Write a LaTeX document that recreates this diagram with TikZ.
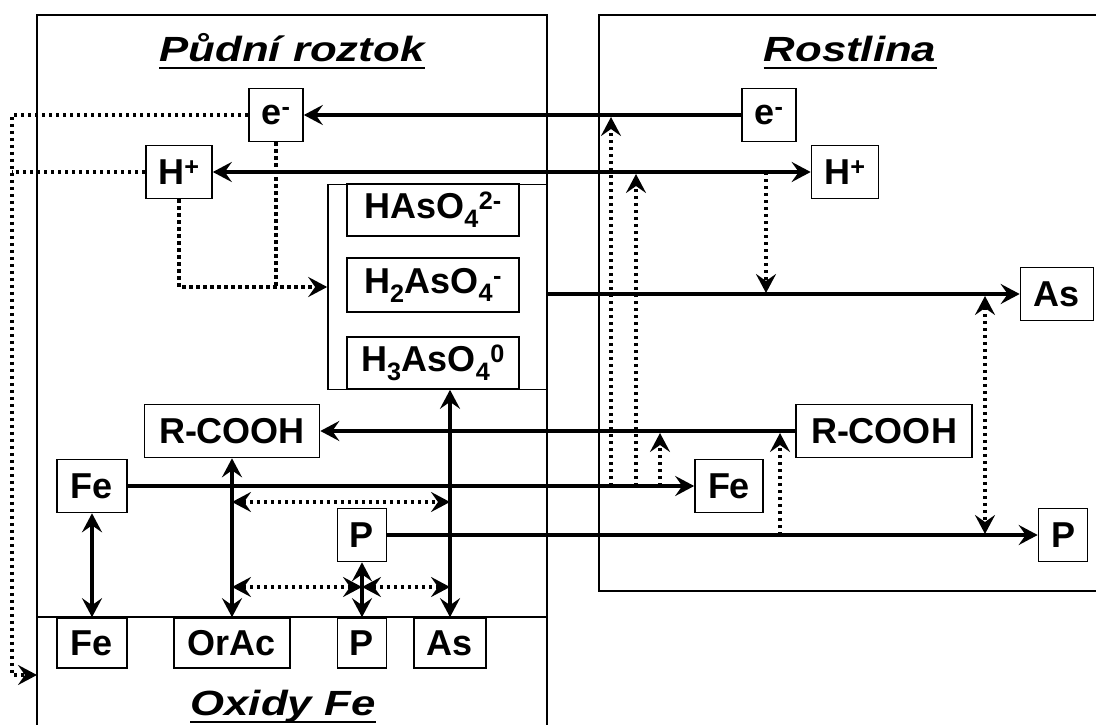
\documentclass[tikz,border=0pt]{standalone}
\usepackage{fontspec}
\setmainfont{Liberation Sans}
\usepackage{graphicx}
\usetikzlibrary{arrows.meta}

\tikzset{
  spec/.style={draw, line width=1.6pt, fill=white, inner sep=0pt,
    minimum height=53pt, font=\bfseries\fontsize{36}{40}\selectfont},
  heading/.style={anchor=base, inner sep=0pt,
    font=\bfseries\itshape\fontsize{35}{40}\selectfont},
  wall/.style={line width=2.8pt},
  uline/.style={line width=2.4pt},
  flow/.style={line width=3.6pt},
  dots/.style={line width=3.6pt, dash pattern=on 3.4pt off 3.6pt}
}

\begin{document}
\begin{tikzpicture}[x=1pt, y=-1pt, >={Stealth[length=19pt,width=20pt,inset=7pt]}]
  \useasboundingbox (0,0) rectangle (1096,725);

  % frames
  \draw[wall] (37,730) -- (37,15) -- (547,15) -- (547,730);
  \draw[wall] (37,617) -- (547,617);
  \draw[wall] (1100,15) -- (599,15) -- (599,591) -- (1100,591);

  % headings
  \node[heading] (tSoil) at (292,62) {\scalebox{1.25}[1]{Půdní roztok}};
  \draw[uline] ([yshift=-6pt]tSoil.base west) -- ([yshift=-6pt]tSoil.base east);
  \node[heading] (tPlant) at (850,62) {\scalebox{1.25}[1]{Rostlina}};
  \draw[uline] ([yshift=-6pt]tPlant.base west) -- ([yshift=-6pt]tPlant.base east);
  \node[heading] (tOxide) at (283,715) {\scalebox{1.25}[1]{Oxidy Fe}};
  \draw[uline] ([yshift=-7pt]tOxide.base west) -- ([yshift=-7pt]tOxide.base east);

  % soil solution
  \node[spec, minimum width=54pt] (eL) at (276,115) {e\textsuperscript{-}};
  \node[spec, minimum width=66pt] (hL) at (179,172) {H\textsuperscript{+}};
  \node[draw, line width=1.6pt, inner sep=0pt, minimum width=219pt,
    minimum height=205pt] (asGrp) at (437.5,287) {};
  \node[spec, minimum width=172pt, minimum height=52pt] (as1) at (433,210)
    {HAsO\textsubscript{4}\textsuperscript{2-}};
  \node[spec, minimum width=172pt, minimum height=54pt] (as2) at (433,285)
    {H\textsubscript{2}AsO\textsubscript{4}\textsuperscript{-}};
  \node[spec, minimum width=172pt, minimum height=52pt] (as3) at (433,363)
    {H\textsubscript{3}AsO\textsubscript{4}\textsuperscript{0}};
  \node[spec, minimum width=175pt] (rcL) at (232,431) {R-COOH};
  \node[spec, minimum width=70pt] (feL) at (92,486) {Fe};
  \node[spec, minimum width=49pt] (pL) at (362,535) {P};

  % iron oxides
  \node[spec, minimum width=70pt, minimum height=50pt] (feB) at (92,643) {Fe};
  \node[spec, minimum width=116pt, minimum height=50pt] (orB) at (232,643) {OrAc};
  \node[spec, minimum width=49pt, minimum height=50pt] (pB) at (362,643) {P};
  \node[spec, minimum width=72pt, minimum height=50pt] (asB) at (450,643) {As};

  % plant
  \node[spec, minimum width=54pt] (eR) at (769,115) {e\textsuperscript{-}};
  \node[spec, minimum width=67pt] (hR) at (845,172) {H\textsuperscript{+}};
  \node[spec, minimum width=73pt] (asR) at (1057,294) {As};
  \node[spec, minimum width=176pt] (rcR) at (884,431) {R-COOH};
  \node[spec, minimum width=68pt] (feR) at (729,486) {Fe};
  \node[spec, minimum width=49pt] (pR) at (1063,535) {P};

  % main fluxes
  \draw[flow, ->] (eR) -- (eL);
  \draw[flow, <->] (hL) -- (hR);
  \draw[flow, ->] (asGrp.east |- asR) -- (asR);
  \draw[flow, ->] (rcR) -- (rcL);
  \draw[flow, ->] (feL) -- (feR);
  \draw[flow, ->] (pL) -- (pR);
  \draw[flow, <->] (feL) -- (feB);
  \draw[flow, <->] (rcL) -- (orB);
  \draw[flow, <->] (pL) -- (pB);
  \draw[flow, <->] (as3.south -| asB) -- (asB);

  % redox and pH effects
  \coordinate (dropL) at (12,675);
  \coordinate (oxIn) at (37,675);
  \draw[dots, ->] (eL) -| (dropL) -- (oxIn);
  \draw[dots] (hL) -- (hL -| dropL);
  \draw[dots, ->] (hL) |- (asGrp);
  \draw[dots] (eL) -- (eL |- asGrp);

  % competition on the oxide surface
  \coordinate (orHi) at (232,502);
  \coordinate (asHi) at (450,502);
  \coordinate (orLo) at (232,587);
  \coordinate (pLo) at (362,587);
  \coordinate (asLo) at (450,587);
  \draw[dots, <->] (orHi) -- (asHi);
  \draw[dots, <->] (orLo) -- (pLo);
  \draw[dots, <->] (pLo) -- (asLo);

  % plant side
  \coordinate (eTap) at (611,117);
  \coordinate (eFoot) at (611,486);
  \coordinate (hTap) at (636,174);
  \coordinate (hFoot) at (636,486);
  \coordinate (rcTap) at (660,433);
  \coordinate (rcFoot) at (660,486);
  \coordinate (rcTap2) at (780,433);
  \coordinate (pFoot) at (780,535);
  \coordinate (hDrop) at (766,172);
  \coordinate (asTap) at (766,293);
  \coordinate (asTap2) at (985,296);
  \coordinate (pTap) at (985,534);
  \draw[dots, ->] (eFoot) -- (eTap);
  \draw[dots, ->] (hFoot) -- (hTap);
  \draw[dots, ->] (rcFoot) -- (rcTap);
  \draw[dots, ->] (pFoot) -- (rcTap2);
  \draw[dots, ->] (hDrop) -- (asTap);
  \draw[dots, <->] (asTap2) -- (pTap);
\end{tikzpicture}
\end{document}
